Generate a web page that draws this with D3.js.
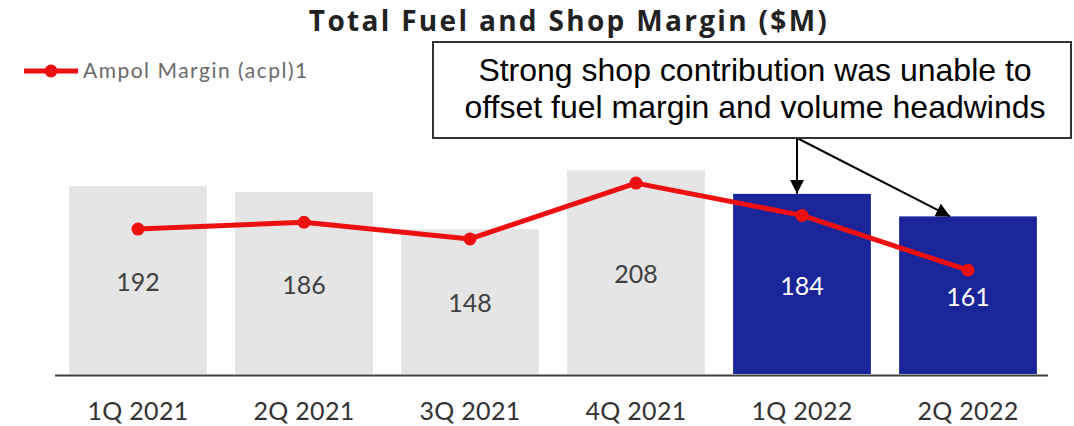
<!DOCTYPE html>
<html>
<head>
<meta charset="utf-8">
<script src="https://cdn.jsdelivr.net/npm/d3@7/dist/d3.min.js"></script>
<style>
  html, body { margin: 0; padding: 0; background: #fff; }
  svg { display: block; }
</style>
</head>
<body>
<div id="chart"></div>
<script>
// ── data ──
const quarters = ["1Q 2021", "2Q 2021", "3Q 2021", "4Q 2021", "1Q 2022", "2Q 2022"];
const totalMargin = [192, 186, 148, 208, 184, 161];          // $M (bars)
const ampolMargin = [14.8, 15.5, 13.8, 19.5, 16.2, 10.6];    // acpl (line, estimated)
const highlighted = [false, false, false, false, true, true];
const noteLines = ["Strong shop contribution was unable to", "offset fuel margin and volume headwinds"];

const W = 1074, H = 426;
const base = 374;
const geo = "Lato, 'Noto Sans', sans-serif";

const svg = d3.select("#chart").append("svg")
  .attr("width", W).attr("height", H);

const x = d3.scaleBand().domain(quarters).range([55, 1051]).paddingInner(0.17).paddingOuter(0.085);
const y = d3.scaleLinear().domain([0, 380]).range([base, 2]);
const y2 = d3.scaleLinear().domain([0, 38]).range([base, 2]);

/* title */
const titleText = "Total Fuel and Shop Margin ($M)";
const title = svg.append("text")
  .attr("x", 569).attr("y", 31)
  .attr("text-anchor", "middle")
  .style("font-family", "'Open Sans', Lato, sans-serif").style("font-weight", "bold").style("font-size", "28px")
  .style("fill", "#222")
  .text(titleText);
// spread letters a little to match the reference width
const tw = title.node().getComputedTextLength();
title.style("letter-spacing", Math.max(0, (518 - tw) / (titleText.length - 1)) + "px");

/* bars */
svg.append("g").selectAll("rect").data(quarters).join("rect")
  .attr("x", (d) => x(d))
  .attr("y", (d, i) => y(totalMargin[i]))
  .attr("width", x.bandwidth())
  .attr("height", (d, i) => base - y(totalMargin[i]))
  .attr("fill", (d, i) => (highlighted[i] ? "#1a2599" : "#e5e5e5"));

svg.append("g").selectAll("text").data(quarters).join("text")
  .attr("x", (d) => x(d) + x.bandwidth() / 2)
  .attr("y", (d, i) => (y(totalMargin[i]) + base) / 2 + 2)
  .attr("dy", "0.35em")
  .attr("text-anchor", "middle")
  .style("font-family", geo).style("font-size", "25px")
  .style("fill", (d, i) => (highlighted[i] ? "#fff" : "#404040"))
  .text((d, i) => totalMargin[i]);

/* x axis */
const xAxis = svg.append("g")
  .attr("transform", `translate(0,${base + 1.5})`)
  .call(d3.axisBottom(x).tickSize(0).tickPadding(0));
xAxis.select(".domain").remove();
xAxis.append("line")
  .attr("x1", 55).attr("x2", 1048)
  .attr("stroke", "#404040").attr("stroke-width", 2);
xAxis.selectAll(".tick text")
  .attr("y", 44).attr("dy", 0)
  .style("font-family", geo).style("font-size", "25px")
  .style("letter-spacing", "0.3px")
  .style("fill", "#333");

/* ampol margin line */
const red = "#ee1010";
const line = d3.line()
  .x((d, i) => x(quarters[i]) + x.bandwidth() / 2)
  .y((d) => y2(d));
svg.append("path").datum(ampolMargin)
  .attr("d", line)
  .attr("fill", "none").attr("stroke", red).attr("stroke-width", 5)
  .attr("stroke-linejoin", "round");
svg.append("g").selectAll("circle").data(ampolMargin).join("circle")
  .attr("cx", (d, i) => x(quarters[i]) + x.bandwidth() / 2)
  .attr("cy", (d) => y2(d))
  .attr("r", 6.5).attr("fill", red);

/* legend */
const lg = svg.append("g");
lg.append("line").attr("x1", 24).attr("x2", 78).attr("y1", 71).attr("y2", 71)
  .attr("stroke", red).attr("stroke-width", 5);
lg.append("circle").attr("cx", 51).attr("cy", 71).attr("r", 6.5).attr("fill", red);
lg.append("text").attr("x", 83).attr("y", 78)
  .style("font-family", geo).style("font-size", "21px").style("fill", "#6a6a6a")
  .style("letter-spacing", "1.5px")
  .text("Ampol Margin (acpl)1");

/* annotation box + arrows */
const defs = svg.append("defs");
defs.append("marker")
  .attr("id", "head").attr("viewBox", "0 0 10 10")
  .attr("refX", 10).attr("refY", 5)
  .attr("markerWidth", 7).attr("markerHeight", 7)
  .attr("markerUnits", "strokeWidth")
  .attr("orient", "auto")
  .append("path").attr("d", "M0,0 L10,5 L0,10 Z").attr("fill", "#000");

const ox = 797, oy = 138;
[4, 5].forEach((i) => {
  const tx = i === 4 ? ox : x(quarters[i]) + x.bandwidth() * 0.37;
  svg.append("line")
    .attr("x1", ox).attr("y1", oy)
    .attr("x2", tx).attr("y2", y(totalMargin[i]))
    .attr("stroke", "#000").attr("stroke-width", 2)
    .attr("marker-end", "url(#head)");
});

svg.append("rect")
  .attr("x", 433).attr("y", 42).attr("width", 638).attr("height", 96)
  .attr("fill", "#fff").attr("stroke", "#333").attr("stroke-width", 2);
svg.append("g").selectAll("text").data(noteLines).join("text")
  .attr("x", 755).attr("y", (d, i) => 81 + i * 37)
  .attr("text-anchor", "middle")
  .style("font-family", "'Liberation Sans', Arial, sans-serif").style("font-size", "32px")
  .style("fill", "#000")
  .text((d) => d);
</script>
</body>
</html>
